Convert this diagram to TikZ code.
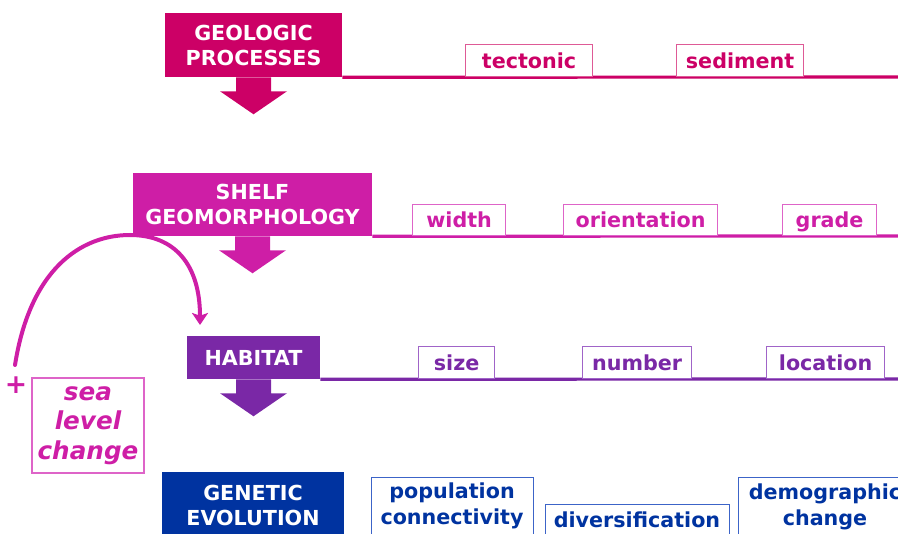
\documentclass[tikz,border=0pt]{standalone}
\usepackage{fontspec}
\setmainfont{DejaVu Sans}
\usetikzlibrary{calc,arrows.meta}

\definecolor{geocol}{RGB}{204,0,102}
\definecolor{geoline}{RGB}{222,90,150}
\definecolor{shelfcol}{RGB}{206,30,166}
\definecolor{shelfline}{RGB}{222,100,200}
\definecolor{habcol}{RGB}{122,40,166}
\definecolor{habline}{RGB}{160,100,200}
\definecolor{gencol}{RGB}{0,51,160}
\definecolor{genline}{RGB}{60,100,200}

% block arrow under a header box
\newcommand{\blockarrow}[2]{%
	\fill[#2] ($(#1.south)+(-17.5,0)$) -- ++(0,14) -- ++(-16,0) -- ++(33.5,23) -- ++(33.5,-23) -- ++(-16,0) -- ++(0,-14) -- cycle ;}

\begin{document}
\begin{tikzpicture}[x=0.75pt,y=0.75pt,yscale=-1,xscale=1,
	head/.style={fill=#1, text=white, align=center, inner sep=0pt, font=\bfseries\fontsize{15.5}{18.75}\selectfont},
	tag/.style={draw=#1line, text=#1col, fill=white, line width=0.9pt, anchor=south west, inner sep=0pt, minimum height=24pt, text height=12pt, text depth=0pt, font=\bfseries\fontsize{15.5}{18.75}\selectfont},
	rule/.style={draw=#1, line width=2.4pt},
	gentxt/.style={text=gencol, align=center, anchor=north, inner sep=0pt, font=\bfseries\fontsize{15.5}{19.5}\selectfont}]
	\useasboundingbox (0,0) rectangle (898,534) ;
	\clip (0,0) rectangle (898,534) ;

	% header boxes
	\node [head=geocol, minimum width=132.75pt, minimum height=48pt] (geo) at (253.5,45) {GEOLOGIC\\PROCESSES};
	\node [head=shelfcol, minimum width=179.25pt, minimum height=47.25pt] (shelf) at (252.5,204.5) {SHELF\\GEOMORPHOLOGY};
	\node [head=habcol, minimum width=99.75pt, minimum height=32.25pt] (hab) at (253.5,357.5) {HABITAT};
	\node [head=gencol, minimum width=136.5pt, minimum height=49.5pt] (gen) at (253,505) {GENETIC\\EVOLUTION};

	\blockarrow{geo}{geocol}
	\blockarrow{shelf}{shelfcol}
	\blockarrow{hab}{habcol}

	% rules
	\coordinate (georight) at (898,77) ;
	\coordinate (shelfright) at (898,236) ;
	\coordinate (habright) at (898,379) ;
	\draw [rule=geocol] (geo.south east) -- (georight) ;
	\draw [rule=shelfcol] (shelf.south east) -- (shelfright) ;
	\draw [rule=habcol] (hab.south east) -- (habright) ;

	\node [tag=geo, minimum width=95.25pt] (tectonic) at (465,77) {tectonic};
	\node [tag=geo, minimum width=95.25pt] (sediment) at (676,77) {sediment};

	\node [tag=shelf, minimum width=69.75pt, minimum height=23.25pt] (width) at (412,236) {width};
	\node [tag=shelf, minimum width=115.5pt, minimum height=23.25pt] (orientation) at (563,236) {orientation};
	\node [tag=shelf, minimum width=70.5pt, minimum height=23.25pt] (grade) at (782,236) {grade};

	\node [tag=hab, minimum width=57pt] (size) at (418,379) {size};
	\node [tag=hab, minimum width=81.75pt] (number) at (582,379) {number};
	\node [tag=hab, minimum width=88.5pt] (location) at (766,379) {location};

	% genetic outcomes
	\node [draw=genline, line width=0.9pt, anchor=north west, minimum width=121.5pt, minimum height=52.5pt] (pop) at (371,477) {};
	\node [draw=genline, line width=0.9pt, anchor=north west, minimum width=138pt, minimum height=30pt] (div) at (545,504) {};
	\node [draw=genline, line width=0.9pt, anchor=north west, minimum width=130.5pt, minimum height=52.5pt] (demo) at (738,477) {};
	\node [gentxt] (poptxt) at (452,483) {population\\connectivity};
	\node [gentxt] (divtxt) at (637,512) {diversification};
	\node [gentxt] (demotxt) at (825,484) {demographic\\change};

	% sea level
	\node [draw=shelfline, line width=0.9pt, text=shelfcol, align=center, inner sep=0pt, minimum width=84pt, minimum height=71.25pt, font=\bfseries\itshape\fontsize{18.5}{22}\selectfont] (sealevel) at (88,425.5) {sea\\level\\change};
	\node [text=shelfcol, inner sep=0pt, font=\bfseries\fontsize{20}{24}\selectfont] (plus) at (16,385) {+};
	\coordinate (slstart) at (15,365) ;
	\coordinate (slend) at (200,325) ;
	\draw [draw=shelfcol, line width=3pt, line cap=round, -{Stealth[length=9pt,width=12pt,inset=2pt]}] (slstart) .. controls (30,270) and (80,235) .. (130,235) .. controls (175,235) and (200,265) .. (slend) ;
\end{tikzpicture}
\end{document}
